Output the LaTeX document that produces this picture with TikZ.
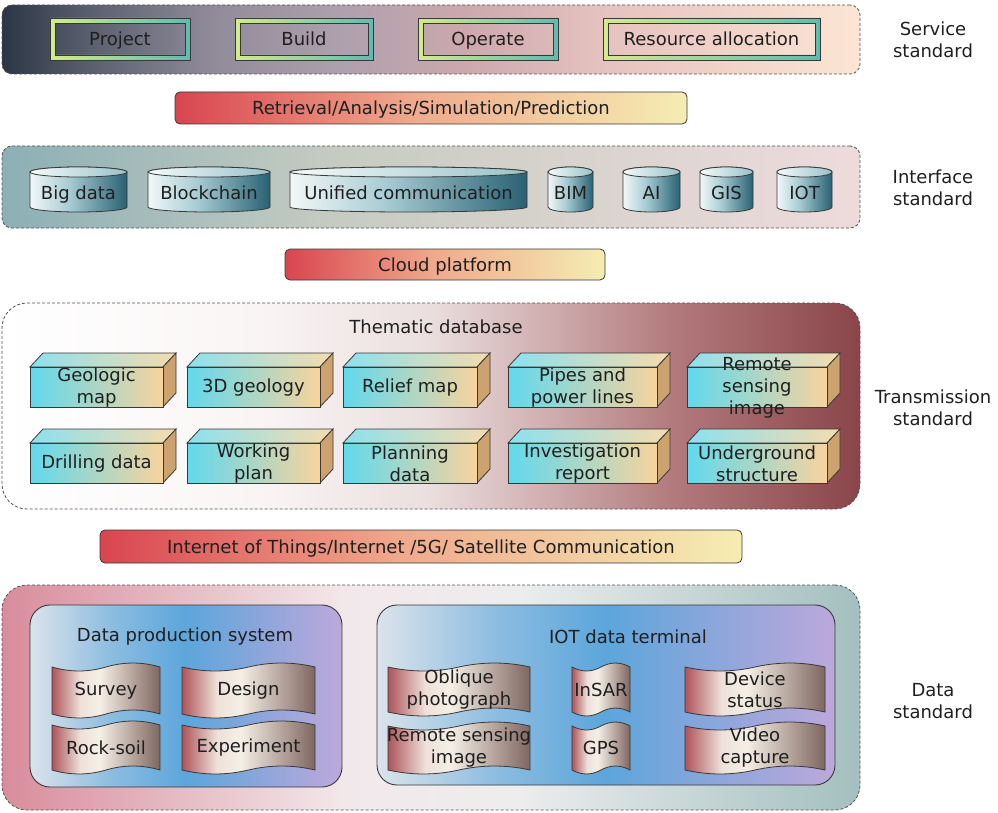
\documentclass[tikz,border=0pt]{standalone}
\usepackage{fontspec}
\setmainfont{DejaVu Sans}
\usetikzlibrary{calc}

\definecolor{edge}{rgb}{0.22,0.22,0.22}
\definecolor{txtcol}{rgb}{0.12,0.12,0.12}
\definecolor{dashcol}{rgb}{0.32,0.32,0.32}

% horizontal gradients; the visible part runs from 25bp to 75bp
\pgfdeclarehorizontalshading{svcband}{100bp}{%
  rgb(0bp)=(0.17,0.21,0.27); rgb(25bp)=(0.17,0.21,0.27);
  rgb(30bp)=(0.35,0.37,0.43); rgb(37bp)=(0.56,0.54,0.60);
  rgb(45bp)=(0.69,0.63,0.68); rgb(52bp)=(0.80,0.66,0.68);
  rgb(60bp)=(0.90,0.76,0.75); rgb(75bp)=(0.99,0.90,0.83);
  rgb(100bp)=(0.99,0.90,0.83)}
\pgfdeclarehorizontalshading{ifcband}{100bp}{%
  rgb(0bp)=(0.55,0.69,0.71); rgb(25bp)=(0.55,0.69,0.71);
  rgb(45bp)=(0.78,0.80,0.76); rgb(75bp)=(0.93,0.86,0.86);
  rgb(100bp)=(0.93,0.86,0.86)}
\pgfdeclarehorizontalshading{trnband}{100bp}{%
  rgb(0bp)=(1,1,1); rgb(25bp)=(1,1,1);
  rgb(40bp)=(0.98,0.96,0.96); rgb(50bp)=(0.92,0.87,0.87);
  rgb(64bp)=(0.70,0.48,0.49); rgb(75bp)=(0.54,0.27,0.29);
  rgb(100bp)=(0.54,0.27,0.29)}
\pgfdeclarehorizontalshading{datband}{100bp}{%
  rgb(0bp)=(0.85,0.55,0.61); rgb(25bp)=(0.85,0.55,0.61);
  rgb(45bp)=(0.95,0.91,0.92); rgb(55bp)=(0.93,0.93,0.93);
  rgb(75bp)=(0.64,0.75,0.75); rgb(100bp)=(0.64,0.75,0.75)}
\pgfdeclarehorizontalshading{tapeshade}{100bp}{%
  rgb(0bp)=(0.68,0.33,0.35); rgb(25bp)=(0.68,0.33,0.35);
  rgb(38bp)=(0.93,0.88,0.85); rgb(47bp)=(0.96,0.94,0.90);
  rgb(75bp)=(0.50,0.40,0.38); rgb(100bp)=(0.50,0.40,0.38)}
\pgfdeclarehorizontalshading{panelshade}{100bp}{%
  rgb(0bp)=(0.86,0.89,0.92); rgb(25bp)=(0.86,0.89,0.92);
  rgb(38bp)=(0.55,0.74,0.88); rgb(50bp)=(0.36,0.65,0.86);
  rgb(62bp)=(0.55,0.65,0.86); rgb(75bp)=(0.74,0.66,0.86);
  rgb(100bp)=(0.74,0.66,0.86)}
\pgfdeclarehorizontalshading{drumshade}{100bp}{%
  rgb(0bp)=(0.95,0.97,0.97); rgb(25bp)=(0.95,0.97,0.97);
  rgb(45bp)=(0.66,0.80,0.83); rgb(75bp)=(0.16,0.38,0.45);
  rgb(100bp)=(0.16,0.38,0.45)}
\pgfdeclarehorizontalshading{barshade}{100bp}{%
  rgb(0bp)=(0.85,0.27,0.31); rgb(25bp)=(0.85,0.27,0.31);
  rgb(48bp)=(0.94,0.66,0.55); rgb(75bp)=(0.96,0.93,0.70);
  rgb(100bp)=(0.96,0.93,0.70)}

\tikzset{
  txt/.style={font=\fontsize{18}{22}\selectfont, text=txtcol, inner sep=0pt, align=center},
  band/.style={draw=dashcol, dash pattern=on 3pt off 2pt, line width=0.8pt,
    shading angle=0, inner sep=0pt},
  bar/.style={txt, draw=edge, line width=0.8pt, rounded corners=5pt,
    shading=barshade, shading angle=0},
  ringshade/.style={left color={rgb,1:red,0.83;green,0.92;blue,0.55},
    right color={rgb,1:red,0.38;green,0.73;blue,0.69}},
  drumbody/.style={draw=edge, line width=0.8pt, shading=drumshade, shading angle=0},
  drumtop/.style={draw=edge, line width=0.8pt,
    left color={rgb,1:red,0.96;green,0.98;blue,0.98},
    right color={rgb,1:red,0.60;green,0.76;blue,0.79}},
  cubefront/.style={draw=edge, line width=0.8pt,
    left color={rgb,1:red,0.38;green,0.85;blue,0.93},
    right color={rgb,1:red,0.97;green,0.83;blue,0.62}},
  cubetop/.style={draw=edge, line width=0.8pt,
    left color={rgb,1:red,0.55;green,0.88;blue,0.94},
    right color={rgb,1:red,0.96;green,0.86;blue,0.68}},
  cubeside/.style={draw=edge, line width=0.8pt, fill={rgb,1:red,0.80;green,0.64;blue,0.43}},
  tapestyle/.style={draw=edge, line width=0.8pt, shading=tapeshade, shading angle=0},
  panel/.style={draw=edge, line width=0.9pt, rounded corners=20pt, inner sep=0pt,
    shading=panelshade, shading angle=0},
  sidelabel/.style={txt}
}

% framed service box: name, left x, right x, text
\newcommand{\svcbox}[4]{%
  \path[ringshade, even odd rule] (#2,18) rectangle (#3,60) (#2+5,23) rectangle (#3-5,55);
  \draw[edge, line width=0.8pt] (#2,18) rectangle (#3,60);
  \node[txt, draw=edge, line width=0.9pt, minimum width={(#3-#2-10)*1pt},
    minimum height=32pt, text depth=0pt] (#1) at ({(#2+#3)/2},39) {#4};
}

% storage drum: name, left x, right x, text
\newcommand{\drum}[4]{%
  \pgfmathsetmacro{\drumrx}{(#3-#2)/2}%
  \pgfmathsetmacro{\drumcx}{(#2+#3)/2}%
  \path[drumbody] (#2,172) -- (#2,207)
    arc[start angle=180, end angle=360, x radius=\drumrx pt, y radius=5pt]
    -- (#3,172)
    arc[start angle=0, end angle=180, x radius=\drumrx pt, y radius=5pt] -- cycle;
  \path[drumtop] (\drumcx,172) ellipse [x radius=\drumrx pt, y radius=5pt];
  \node[txt, text depth=0pt] (#1) at (\drumcx,193) {#4};
}

% 3D block: name, left x, right x, top y of front face, text
\newcommand{\cuboid}[5]{%
  \path[cubetop] (#2,#4) -- (#2+13,#4-14) -- (#3+13,#4-14) -- (#3,#4) -- cycle;
  \path[cubeside] (#3,#4) -- (#3+13,#4-14) -- (#3+13,#4+26) -- (#3,#4+40) -- cycle;
  \path[cubefront] (#2,#4) rectangle (#3,#4+40);
  \node[txt] (#1) at ({(#2+#3)/2},#4+21) {#5};
}

% wavy tape: name, left x, right x, top y, bottom y, text
\newcommand{\tapebox}[6]{%
  \pgfmathsetmacro{\tapew}{#3-#2}%
  \path[tapestyle] (#2,#4)
    .. controls ({#2+\tapew/6},{#4+5.3}) and ({#2+\tapew/3},{#4+5.3}) .. ({#2+\tapew/2},#4)
    .. controls ({#2+2*\tapew/3},{#4-5.3}) and ({#2+5*\tapew/6},{#4-5.3}) .. (#3,#4)
    -- (#3,#5)
    .. controls ({#2+5*\tapew/6},{#5-5.3}) and ({#2+2*\tapew/3},{#5-5.3}) .. ({#2+\tapew/2},#5)
    .. controls ({#2+\tapew/3},{#5+5.3}) and ({#2+\tapew/6},{#5+5.3}) .. (#2,#5) -- cycle;
  \node[txt] (#1) at ({(#2+#3)/2},{(#4+#5)/2}) {#6};
}

\begin{document}
\begin{tikzpicture}[x=1pt, y=-1pt]
\useasboundingbox (0,0) rectangle (998,813);

% ---------- service layer ----------
\node[band, shading=svcband, rounded corners=10pt, minimum width=858pt, minimum height=69pt]
  (service) at (431,39.5) {};
\svcbox{project}{50}{190}{Project}
\svcbox{build}{235}{373}{Build}
\svcbox{operate}{418}{558}{Operate}
\svcbox{resource}{603}{820}{Resource allocation}
\node[sidelabel] (servicelbl) at (933,40) {Service\\standard};

\node[bar, minimum width=512pt, minimum height=32pt, text depth=0pt] (retrieval) at (431,108)
  {Retrieval/Analysis/Simulation/Prediction};

% ---------- interface layer ----------
\node[band, shading=ifcband, rounded corners=10pt, minimum width=858pt, minimum height=82pt]
  (interface) at (431,187) {};
\drum{bigdata}{30}{127}{Big data}
\drum{blockchain}{148}{270}{Blockchain}
\drum{unified}{290}{527}{Unified communication}
\drum{bim}{548}{593}{BIM}
\drum{ai}{623}{680}{AI}
\drum{gis}{700}{753}{GIS}
\drum{iot}{777}{832}{IOT}
\node[sidelabel] (interfacelbl) at (933,188) {Interface\\standard};

\node[bar, minimum width=320pt, minimum height=31pt, text depth=0pt] (cloud) at (445,264.5) {Cloud platform};

% ---------- transmission layer ----------
\node[band, shading=trnband, rounded corners=25pt, minimum width=858pt, minimum height=206pt]
  (transmission) at (431,406) {};
\node[txt] (thematic) at (436,327) {Thematic database};
\cuboid{geomap}{30}{163}{367}{Geologic\\map}
\cuboid{geo3d}{187}{320}{367}{3D geology}
\cuboid{relief}{343}{477}{367}{Relief map}
\cuboid{pipes}{508}{657}{367}{Pipes and\\power lines}
\cuboid{remote}{687}{827}{367}{Remote\\sensing\\image}
\cuboid{drilling}{30}{163}{443}{Drilling data}
\cuboid{working}{187}{320}{443}{Working\\plan}
\cuboid{planning}{343}{477}{443}{Planning\\data}
\cuboid{investigation}{508}{657}{443}{Investigation\\report}
\cuboid{underground}{687}{827}{443}{Underground\\structure}
\node[sidelabel] (transmissionlbl) at (933,408) {Transmission\\standard};

\node[bar, minimum width=642pt, minimum height=33pt, text depth=0pt]
  (network) at (421,546.5) {Internet of Things/Internet /5G/ Satellite Communication};

% ---------- data layer ----------
\node[band, shading=datband, rounded corners=25pt, minimum width=858pt, minimum height=225pt]
  (data) at (431,697.5) {};
\node[panel, minimum width=312pt, minimum height=182pt] (production) at (186,696) {};
\node[panel, minimum width=458pt, minimum height=180pt] (terminal) at (606,695) {};
\node[txt] (productionlbl) at (185,637) {Data production system};
\node[txt] (terminallbl) at (628,637) {IOT data terminal};

\tapebox{survey}{52}{160}{667}{714}{Survey}
\tapebox{design}{182}{315}{667}{714}{Design}
\tapebox{rocksoil}{52}{160}{725}{770}{Rock-soil}
\tapebox{experiment}{182}{315}{725}{770}{Experiment}

\tapebox{oblique}{388}{530}{667}{712}{Oblique\\photograph}
\tapebox{insar}{572}{630}{667}{712}{InSAR}
\tapebox{device}{685}{825}{667}{712}{Device\\status}
\tapebox{rsimage}{388}{530}{726}{770}{Remote sensing\\image}
\tapebox{gps}{572}{630}{726}{770}{GPS}
\tapebox{video}{685}{825}{726}{770}{Video\\capture}

\node[sidelabel] (datalbl) at (933,701) {Data\\standard};
\end{tikzpicture}
\end{document}
